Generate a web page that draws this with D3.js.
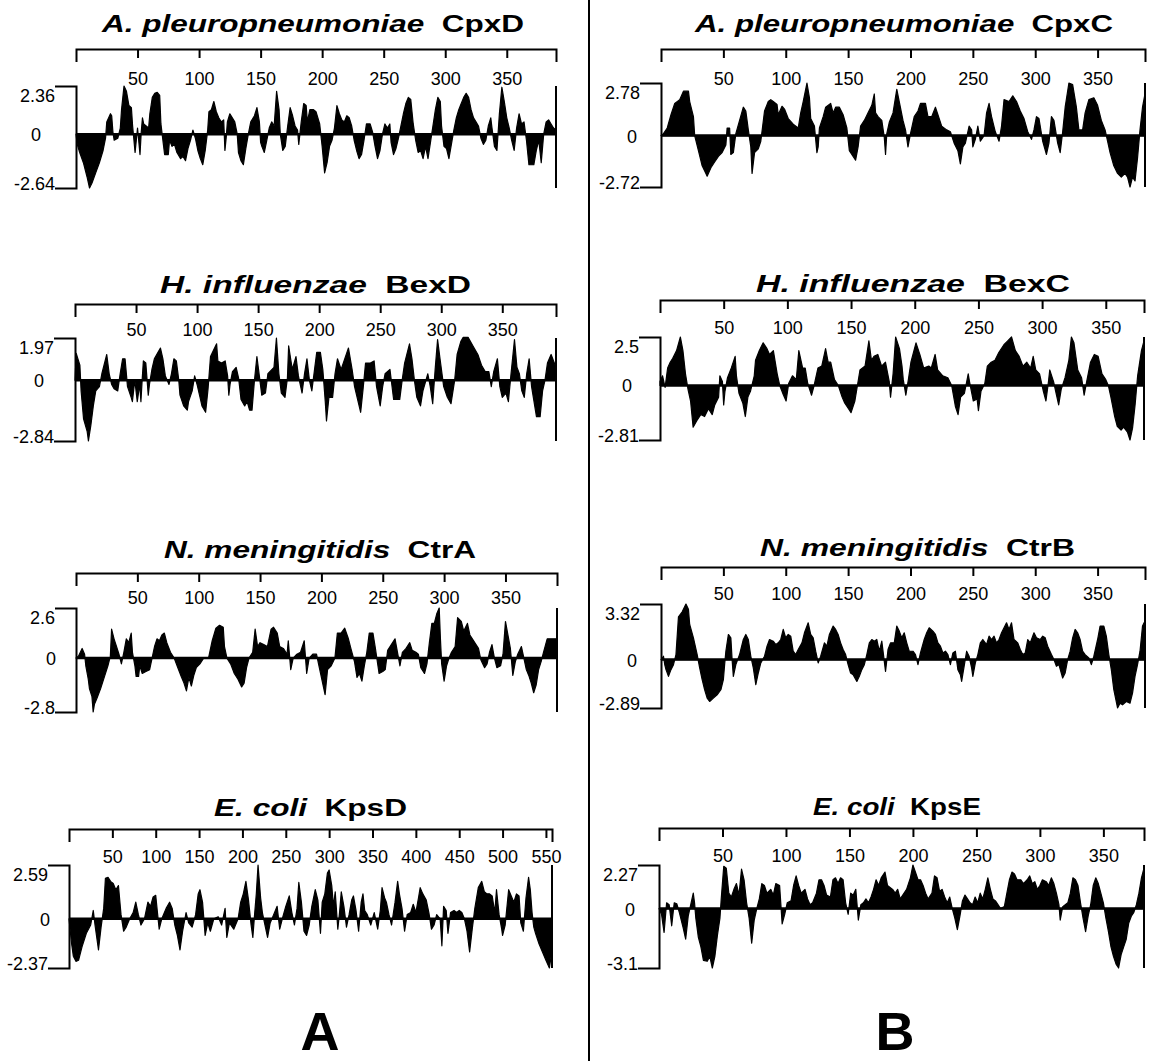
<!DOCTYPE html>
<html><head><meta charset="utf-8">
<script src="https://cdn.jsdelivr.net/npm/d3@7"></script>
<style>body{margin:0;background:#fff}svg{display:block}</style>
</head><body>
<svg id="chart" width="1149" height="1061"></svg>
<script>
// ---------- DATA (residue, hydropathy) ----------
const cpxD = [[0,0],[1,-0.5],[3,-0.9],[6,-1.4],[9,-2.1],[11,-2.64],[13,-2.4],[16,-1.9],[19,-1.4],[22,-0.8],[24,-0.2],[25,0.6],[28,1.0],[29,0.9],[30,0.1],[31,-0.3],[34,-0.2],[36,0.3],[37,1.2],[39,2.36],[41,2.1],[43,1.4],[45,1.3],[46,0.4],[48,-0.9],[49,-0.3],[50,0.3],[52,-1.0],[53,0.1],[54,0.8],[55,0.5],[57,0.4],[59,0.3],[60,1.0],[62,1.8],[64,2.0],[66,2.05],[68,1.9],[69,0.5],[71,-0.5],[72,-1.0],[75,-1.0],[76,-0.3],[78,-0.6],[80,-0.5],[82,-0.9],[85,-1.2],[87,-1.1],[89,-1.3],[91,-0.7],[93,-0.3],[95,0.2],[97,-0.2],[99,-0.8],[101,-1.2],[103,-1.5],[105,-0.8],[107,0.2],[108,1.1],[110,1.2],[112,1.6],[114,1.1],[116,0.8],[118,0.6],[120,0.7],[121,-0.8],[122,-0.2],[123,0.6],[125,1.0],[127,0.8],[129,0.6],[131,0.0],[132,-0.9],[134,-1.3],[136,-1.5],[138,-0.7],[140,0.0],[142,0.6],[145,0.9],[147,1.3],[149,0.6],[150,-0.4],[151,-0.6],[153,-0.9],[155,-0.3],[157,0.3],[159,0.6],[161,0.4],[163,2.1],[165,1.2],[166,0.0],[168,-0.8],[170,-0.6],[172,0.4],[174,1.3],[176,0.9],[178,0.4],[180,0.2],[181,-0.5],[183,0.6],[185,1.5],[187,1.4],[188,0.6],[190,1.2],[193,1.2],[195,1.1],[198,0.5],[200,-0.6],[202,-1.9],[204,-1.4],[206,-0.6],[208,-0.3],[210,0.3],[212,1.4],[214,1.0],[216,0.7],[218,0.6],[220,0.9],[222,0.8],[224,0.4],[226,-0.3],[228,-0.8],[230,-1.2],[232,-1.0],[234,-0.3],[236,0.5],[239,0.5],[241,0.1],[243,-0.6],[245,-1.2],[247,-0.8],[249,0.0],[251,0.5],[253,0.3],[255,0.5],[256,-0.4],[258,-1.0],[260,-0.7],[262,-0.2],[264,0.4],[266,1.0],[268,1.5],[270,1.8],[272,1.7],[274,0.5],[276,-0.3],[278,-0.9],[280,-0.8],[282,-1.2],[284,-0.6],[286,-1.2],[288,-0.4],[290,0.4],[292,1.2],[294,1.8],[296,1.6],[297,0.4],[299,-0.6],[301,-0.7],[303,-1.2],[305,-0.5],[307,0.2],[309,0.8],[311,1.2],[313,1.5],[315,1.8],[317,2.0],[319,1.8],[321,1.2],[323,0.8],[325,0.6],[327,0.4],[329,-0.2],[331,-0.5],[333,-0.3],[335,0.4],[337,0.8],[338,0.3],[340,-0.6],[342,-0.8],[344,1.0],[346,2.3],[348,1.6],[350,0.8],[352,0.3],[354,-0.3],[356,-0.8],[358,0.3],[360,1.0],[362,0.5],[364,0.6],[366,-0.3],[368,-1.5],[370,-1.5],[372,-1.5],[374,-0.8],[376,-0.3],[378,-1.4],[380,0.0],[382,0.6],[384,0.7],[386,0.5],[388,0.3],[390,0.2]];

const cpxC = [[0,0],[2,0.1],[5,0.4],[8,1.1],[11,1.7],[15,1.9],[18,2.35],[22,2.35],[23,1.8],[26,1.0],[27,0.0],[30,-0.8],[33,-1.6],[36,-2.0],[37,-2.15],[40,-1.7],[43,-1.4],[46,-1.1],[49,-0.9],[52,-0.5],[53,0.4],[55,0.4],[56,-1.0],[58,-0.9],[60,0.1],[63,0.8],[66,1.5],[68,1.3],[70,0.3],[72,-0.6],[73,-2.0],[75,-0.9],[78,-0.7],[80,-0.3],[83,1.3],[86,1.8],[88,1.9],[90,1.8],[93,1.65],[94,1.1],[97,1.55],[99,1.4],[102,0.9],[106,0.6],[110,0.4],[112,1.2],[114,1.8],[117,2.78],[119,2.0],[120,0.9],[123,0.5],[125,-0.9],[126,-0.6],[127,0.4],[130,1.0],[132,1.5],[136,1.7],[138,1.2],[140,1.5],[143,1.5],[146,1.1],[149,0.4],[151,-0.8],[154,-1.1],[156,-1.3],[158,-0.6],[160,0.5],[163,0.8],[166,1.2],[169,1.6],[171,2.2],[172,1.2],[174,1.0],[177,0.8],[179,-0.1],[180,-1.0],[181,0.1],[183,0.7],[186,1.2],[189,2.45],[191,1.8],[194,0.8],[196,0.3],[198,-0.6],[200,0.1],[203,1.0],[206,1.3],[208,1.7],[212,1.7],[214,1.0],[217,1.0],[220,1.5],[222,1.1],[225,0.5],[229,0.3],[232,0.2],[235,-0.4],[238,-0.8],[240,-1.5],[242,-0.6],[244,-0.4],[247,0.5],[249,0.3],[250,-0.6],[252,-0.2],[254,0.5],[256,-0.3],[259,0.0],[261,1.2],[263,1.7],[265,1.0],[268,0.2],[271,-0.3],[273,0.5],[275,1.9],[279,1.8],[282,2.1],[285,1.8],[288,1.3],[291,0.9],[294,0.2],[297,-0.2],[299,0.3],[301,1.0],[303,0.9],[306,-0.3],[309,-1.0],[311,-0.4],[313,1.0],[315,0.8],[318,-0.4],[320,-0.9],[322,0.2],[324,1.5],[327,2.78],[330,2.7],[333,1.5],[335,0.3],[338,0.3],[340,1.2],[343,1.9],[347,2.0],[350,1.6],[353,0.8],[356,0.3],[358,-0.3],[360,-0.9],[363,-1.6],[366,-2.0],[369,-2.2],[372,-2.0],[374,-2.2],[376,-2.72],[378,-2.2],[380,-2.4],[382,-1.2],[384,0.3],[386,1.5],[388,2.2]];

const bexD = [[0,0],[1,1.25],[4,0.7],[5,-0.5],[7,-1.8],[10,-2.4],[11,-2.84],[13,-2.1],[15,-1.2],[17,-0.5],[20,-0.3],[22,0.3],[26,1.2],[28,0.3],[30,-0.2],[32,-0.4],[35,-0.5],[37,0.3],[39,1.0],[41,1.0],[43,-0.3],[46,-0.8],[47,-1.0],[49,0.0],[51,-1.0],[53,-0.2],[54,-1.0],[55,0.0],[56,0.9],[58,0.8],[60,-0.7],[61,-0.2],[63,0.5],[65,1.0],[68,1.3],[70,1.5],[72,1.0],[74,0.2],[77,-0.2],[79,0.3],[81,1.0],[83,0.9],[85,0.0],[86,-0.7],[89,-1.2],[92,-1.4],[93,-1.0],[96,-0.5],[98,0.2],[100,-0.2],[102,-0.7],[104,-1.2],[107,-1.5],[109,-0.4],[111,1.1],[116,1.7],[117,0.9],[120,0.8],[123,0.9],[125,0.2],[126,-0.7],[127,-0.2],[129,0.4],[132,0.6],[134,0.1],[136,-0.9],[139,-1.2],[141,-1.0],[143,-1.4],[145,-1.4],[147,0.0],[149,1.1],[151,0.2],[153,-0.7],[156,-0.6],[158,0.3],[163,0.6],[165,1.97],[167,0.3],[169,-0.6],[172,-0.8],[174,0.1],[175,1.6],[178,0.5],[181,1.1],[183,0.2],[186,-0.6],[188,0.3],[190,1.0],[192,0.0],[194,-0.5],[196,0.4],[198,1.3],[201,1.3],[203,0.5],[205,-1.0],[206,-1.9],[208,-0.8],[211,-0.8],[213,0.3],[215,1.0],[218,0.5],[221,1.0],[224,1.5],[227,0.5],[229,-0.3],[234,-1.5],[236,-0.4],[238,0.8],[242,0.8],[245,0.9],[247,-0.3],[250,-1.2],[252,-0.3],[254,0.3],[258,0.5],[261,-0.9],[266,-0.9],[268,0.0],[270,0.8],[274,1.7],[276,1.0],[278,0.0],[280,-0.8],[283,-1.2],[285,-0.5],[289,0.3],[291,-0.3],[293,-1.1],[295,0.5],[297,1.9],[299,1.0],[302,-0.3],[305,-0.8],[308,-1.1],[311,0.0],[313,1.2],[316,1.8],[318,2.0],[322,2.0],[326,1.6],[330,1.2],[333,0.7],[336,0.4],[339,0.4],[341,-0.3],[343,0.4],[346,1.0],[348,-0.3],[350,-0.8],[353,-0.6],[355,-1.0],[357,0.2],[360,1.9],[362,0.6],[364,0.3],[366,-0.5],[368,-0.8],[370,0.3],[372,1.0],[374,-0.3],[376,-1.0],[378,-1.7],[381,-1.7],[383,-0.5],[385,0.0],[387,0.8],[390,1.2],[392,0.9],[394,0.6]];

const bexC = [[0,0.2],[2,0.5],[4,-0.1],[6,0.9],[8,1.2],[10,1.4],[13,1.8],[16,2.5],[18,1.8],[20,0.6],[22,-0.2],[24,-0.8],[26,-2.15],[29,-1.8],[32,-1.5],[35,-1.6],[38,-1.2],[41,-1.5],[43,-1.0],[46,-0.6],[47,0.5],[49,0.2],[50,-1.0],[51,-0.3],[53,0.4],[56,0.9],[59,1.5],[60,0.5],[62,-0.4],[65,-0.9],[67,-1.6],[69,-0.6],[71,-0.3],[74,0.5],[75,1.3],[78,1.8],[81,2.2],[84,1.9],[86,1.6],[89,1.8],[92,0.6],[94,0.0],[97,-0.5],[99,-0.8],[101,0.1],[104,0.5],[107,0.3],[109,1.8],[112,0.9],[114,0.9],[116,0.1],[119,-0.5],[121,0.0],[124,0.9],[127,1.0],[130,1.9],[132,1.2],[134,1.2],[137,0.3],[140,0.0],[143,-0.6],[145,-0.9],[148,-1.2],[150,-1.4],[153,-0.8],[155,0.0],[157,0.8],[161,1.0],[164,2.3],[166,1.3],[168,1.5],[171,1.6],[174,1.0],[177,1.2],[180,0.2],[181,-0.6],[183,0.6],[185,2.5],[188,1.9],[190,1.0],[191,0.3],[193,-0.5],[195,0.3],[197,1.2],[201,2.2],[204,1.6],[207,0.9],[211,1.0],[213,0.9],[216,1.6],[218,0.8],[222,0.5],[226,0.4],[229,0.0],[232,-1.1],[234,-1.5],[236,-0.6],[239,-0.4],[242,0.6],[243,0.2],[246,-0.8],[249,-0.7],[250,-1.3],[252,-0.3],[255,0.1],[257,1.0],[260,1.2],[263,1.3],[266,1.7],[270,2.1],[273,2.3],[276,2.5],[279,1.8],[282,1.5],[285,1.0],[288,1.2],[291,0.9],[293,1.5],[295,0.8],[298,0.6],[301,-0.3],[303,-0.8],[305,0.2],[306,0.8],[309,0.2],[311,-0.4],[313,-1.0],[315,-0.2],[318,0.4],[321,1.3],[323,2.5],[325,2.2],[328,0.8],[331,0.4],[333,-0.5],[335,0.2],[338,1.2],[341,1.6],[344,1.5],[347,0.6],[350,0.3],[352,0.0],[354,-0.6],[357,-1.6],[359,-2.1],[362,-2.3],[364,-2.15],[367,-2.4],[369,-2.81],[371,-2.2],[373,-1.0],[375,0.5],[378,1.8],[380,2.3]];

const ctrA = [[0,0],[2,0.1],[5,0.5],[7,0.2],[8,-0.4],[10,-1.1],[11,-1.6],[13,-2.0],[14,-2.8],[15,-2.4],[17,-2.1],[20,-1.6],[23,-1.0],[26,-0.4],[28,0.1],[29,1.5],[31,1.0],[33,0.6],[35,0.2],[37,-0.3],[39,0.3],[41,1.0],[43,0.8],[45,1.3],[46,0.3],[48,-0.4],[49,-0.95],[51,-0.95],[52,-0.4],[54,-0.8],[57,-0.7],[60,-0.6],[62,0.0],[64,0.6],[66,1.0],[68,0.9],[70,1.2],[72,1.3],[74,0.8],[77,0.3],[80,0.0],[83,-0.5],[86,-1.0],[88,-1.3],[90,-1.7],[92,-1.0],[94,-1.45],[96,-0.9],[98,-0.5],[101,-0.3],[104,0.0],[108,0.0],[111,0.9],[114,1.55],[117,1.7],[120,1.6],[121,0.6],[123,0.0],[126,-0.3],[129,-0.8],[132,-1.1],[135,-1.5],[137,-1.3],[139,-0.5],[141,0.0],[144,0.3],[146,1.5],[148,0.6],[150,0.8],[153,0.7],[156,0.6],[159,1.5],[161,1.6],[164,1.3],[166,0.6],[169,0.5],[172,0.2],[173,0.9],[175,-0.6],[177,0.0],[180,0.2],[183,0.3],[186,0.9],[188,-0.8],[190,0.0],[193,0.2],[196,0.2],[198,-0.4],[203,-1.9],[205,-0.6],[208,-0.4],[211,0.0],[213,1.3],[216,1.3],[219,1.55],[222,1.0],[224,0.5],[227,-0.2],[229,-1.0],[231,-0.8],[233,-1.2],[235,-0.4],[237,0.3],[239,1.3],[242,1.3],[244,0.5],[247,-0.8],[250,-0.7],[252,-0.6],[254,0.4],[257,0.7],[260,1.0],[262,0.3],[264,-0.4],[266,0.3],[269,0.5],[272,0.8],[274,0.4],[277,0.3],[279,0.2],[281,-0.5],[284,-0.8],[286,-0.3],[288,0.8],[290,1.8],[292,1.8],[294,2.3],[296,2.6],[297,1.0],[298,-0.3],[300,-1.2],[302,-0.4],[304,0.0],[306,0.3],[309,0.6],[311,2.1],[314,1.9],[316,1.4],[319,1.8],[321,1.2],[323,1.0],[326,0.7],[328,0.5],[330,-0.1],[333,-0.5],[335,-0.3],[337,0.3],[339,0.7],[341,0.0],[343,-0.5],[346,-0.4],[348,0.2],[350,1.9],[352,1.2],[354,0.5],[356,-0.9],[358,-0.2],[360,0.2],[363,0.6],[365,0.0],[367,-0.6],[369,-0.9],[371,-1.3],[373,-1.8],[375,-1.4],[377,-0.6],[379,-0.2],[381,0.3],[384,1.0],[388,1.0],[392,1.0]];

const ctrB = [[0,0],[2,0.2],[3,-0.3],[4,-0.6],[6,-1.0],[8,-0.6],[10,-0.3],[12,0.3],[14,2.55],[17,2.85],[20,3.32],[22,3.0],[23,2.1],[26,1.3],[29,0.3],[31,-0.5],[33,-1.2],[35,-1.8],[37,-2.3],[39,-2.5],[42,-2.3],[45,-2.1],[48,-1.8],[50,-1.2],[51,-0.3],[52,0.5],[54,1.5],[56,1.3],[57,0.0],[58,-1.0],[60,-0.3],[63,0.3],[66,1.2],[68,1.5],[70,1.2],[72,0.2],[74,-0.5],[76,-1.5],[78,-0.8],[80,-0.2],[83,0.2],[85,0.8],[87,1.2],[90,1.1],[92,0.9],[94,1.0],[96,1.2],[98,1.8],[100,1.3],[102,1.5],[104,1.4],[106,0.5],[108,0.3],[110,0.6],[113,1.0],[115,1.6],[118,2.2],[120,1.5],[122,1.3],[124,0.5],[126,-0.2],[128,0.2],[131,1.0],[133,0.8],[135,1.5],[138,2.0],[140,1.8],[142,1.5],[144,1.0],[146,0.6],[148,0.3],[150,-0.3],[152,-0.8],[154,-0.9],[157,-1.3],[159,-1.0],[161,-0.6],[163,-0.3],[165,0.3],[167,1.0],[169,1.2],[171,1.1],[173,1.2],[175,0.5],[177,1.1],[180,-0.7],[182,0.6],[184,1.0],[187,1.0],[189,2.0],[191,1.7],[193,1.3],[195,1.6],[197,1.0],[199,0.5],[202,0.5],[204,0.3],[206,-0.3],[208,0.4],[211,1.2],[213,1.6],[215,1.9],[218,1.7],[220,1.5],[222,1.0],[224,0.8],[226,0.4],[228,0.5],[230,0.3],[232,-0.3],[234,0.4],[236,0.5],[238,-0.6],[240,-0.9],[241,-1.3],[243,-0.4],[245,0.5],[247,0.2],[249,-0.5],[250,-1.0],[252,-0.2],[254,0.3],[256,1.0],[258,1.2],[261,0.9],[263,1.4],[265,1.2],[267,1.4],[269,1.0],[271,1.2],[273,1.6],[277,2.2],[279,1.8],[281,2.2],[283,1.2],[286,1.0],[288,0.6],[290,0.3],[292,0.4],[294,1.2],[296,1.0],[299,1.6],[301,1.3],[304,1.2],[306,1.4],[308,1.3],[310,0.8],[313,0.3],[315,0.0],[317,-0.4],[319,-0.3],[322,-1.1],[324,-0.8],[326,0.0],[328,0.5],[330,1.3],[332,1.8],[334,1.6],[336,1.2],[338,0.5],[340,0.3],[343,0.1],[345,-0.3],[347,0.2],[350,1.2],[352,2.0],[355,2.0],[357,1.4],[359,0.3],[361,-0.6],[363,-1.8],[366,-2.89],[368,-2.6],[370,-2.7],[373,-2.5],[376,-2.6],[378,-2.0],[380,-1.0],[382,-0.3],[384,0.5],[386,2.0],[388,2.3]];

const kpsD = [[0,0],[3,-1.2],[5,-1.8],[8,-2.05],[11,-2.0],[15,-1.35],[20,-0.7],[25,-0.3],[28,0.4],[30,-0.3],[34,-1.5],[37,-0.4],[40,0.5],[42,1.95],[45,2.0],[48,1.8],[51,1.7],[54,1.4],[57,1.6],[60,0.2],[63,-0.6],[66,-0.4],[70,0.0],[74,0.3],[77,0.8],[80,0.2],[83,-0.3],[87,0.0],[91,0.8],[94,0.6],[97,1.05],[100,1.13],[102,0.3],[104,-0.5],[107,0.0],[112,0.5],[116,0.8],[119,0.5],[122,-0.3],[125,-0.8],[128,-1.5],[131,-0.6],[135,0.3],[138,-0.2],[142,-0.4],[146,0.2],[149,1.2],[151,1.4],[154,0.8],[157,-0.8],[160,-0.2],[163,-0.6],[167,0.0],[172,0.1],[176,-0.3],[180,0.5],[182,-0.9],[185,-0.2],[190,-0.5],[195,0.0],[198,0.8],[201,1.2],[204,1.8],[207,0.9],[210,-0.3],[212,-0.9],[214,0.2],[216,1.2],[218,2.59],[221,1.0],[223,0.3],[226,-0.3],[229,-0.9],[232,-0.2],[236,0.2],[240,0.6],[243,-0.5],[246,0.0],[250,0.6],[254,1.1],[257,0.3],[260,-0.3],[263,0.5],[265,1.75],[268,0.8],[271,-0.6],[274,-0.8],[277,-0.3],[280,0.6],[284,1.4],[287,0.9],[290,-0.7],[292,0.8],[295,1.2],[298,2.2],[300,2.35],[303,1.6],[305,0.6],[307,1.3],[310,-0.5],[312,0.3],[314,1.3],[317,0.6],[320,-0.4],[323,0.2],[326,0.9],[328,1.1],[331,0.4],[334,-0.6],[337,0.8],[339,1.2],[341,0.4],[344,0.2],[348,-0.3],[352,0.3],[356,-0.5],[359,0.4],[361,1.5],[364,1.0],[366,0.8],[369,0.2],[372,-0.3],[376,0.8],[379,1.8],[381,1.2],[384,0.5],[387,-0.6],[390,0.2],[394,0.3],[397,0.7],[400,0.3],[403,1.0],[405,1.5],[408,1.2],[412,0.9],[415,0.3],[418,-0.5],[421,-0.3],[424,0.2],[428,0.0],[430,-1.3],[432,0.6],[435,0.4],[437,-0.7],[440,0.3],[444,0.4],[447,0.3],[450,0.4],[453,0.3],[456,0.0],[459,-0.6],[462,-1.6],[465,-0.5],[468,0.5],[472,1.5],[476,1.8],[479,1.3],[482,1.2],[485,1.2],[488,1.1],[491,0.3],[493,1.4],[496,0.2],[499,-0.5],[500,-0.8],[503,-0.3],[507,1.4],[510,1.1],[513,0.8],[516,1.2],[519,1.1],[521,-0.2],[524,-0.6],[527,1.0],[530,2.0],[532,1.4],[534,0.3],[536,-0.4],[538,-0.7],[542,-1.2],[546,-1.6],[550,-2.0],[554,-2.37],[556,-1.8],[557,-1.0]];

const kpsE = [[0,0],[2,-0.3],[4,-1.25],[6,0.3],[8,0.2],[10,-0.9],[12,0.3],[14,0.25],[16,-0.2],[19,-1.0],[21,-1.6],[23,-0.4],[25,0.2],[27,0.8],[28,0.3],[29,-0.5],[31,-1.5],[33,-2.0],[35,-2.7],[38,-2.75],[40,-2.5],[42,-3.1],[44,-2.5],[46,-1.4],[48,-0.5],[49,0.5],[51,2.2],[53,2.1],[55,0.8],[57,0.6],[59,1.0],[61,1.3],[63,0.7],[65,2.05],[67,1.5],[69,0.3],[71,-0.5],[73,-1.8],[75,-0.6],[77,0.0],[79,0.5],[81,1.3],[83,1.2],[85,0.8],[88,1.0],[90,0.7],[92,1.3],[95,1.2],[97,-0.8],[99,-0.3],[101,0.3],[104,0.4],[106,1.2],[108,1.7],[110,1.2],[112,0.8],[115,1.0],[117,0.5],[119,0.2],[121,0.3],[124,0.8],[126,1.5],[128,1.5],[130,1.2],[132,0.7],[135,0.6],[137,1.5],[139,1.6],[141,1.3],[143,1.6],[145,1.5],[147,0.3],[149,-0.3],[151,0.8],[153,0.7],[155,1.0],[157,-0.6],[159,0.2],[161,0.3],[163,0.5],[165,0.3],[167,0.6],[169,1.0],[171,1.5],[173,1.2],[175,1.6],[178,1.9],[180,1.2],[182,1.1],[184,1.0],[186,0.8],[188,1.0],[190,0.5],[192,0.7],[195,1.0],[198,1.6],[200,2.27],[202,1.9],[204,1.5],[206,1.5],[208,1.2],[210,0.8],[212,0.5],[215,0.8],[217,1.7],[219,1.6],[221,0.9],[223,1.0],[225,0.6],[227,0.3],[229,0.6],[231,0.0],[233,-0.5],[235,-1.1],[237,-0.4],[239,0.4],[241,0.7],[243,0.5],[245,0.3],[247,0.2],[249,0.6],[251,0.3],[253,0.8],[255,0.5],[257,1.0],[259,1.6],[261,1.0],[263,0.5],[265,0.4],[267,0.2],[269,0.0],[272,0.1],[274,0.8],[276,1.5],[278,1.9],[280,1.8],[282,1.5],[285,1.5],[287,1.3],[290,1.5],[292,1.7],[294,1.3],[296,1.4],[298,1.0],[300,1.2],[302,1.5],[305,1.4],[307,1.2],[309,1.6],[311,1.3],[313,0.8],[315,0.2],[316,-0.6],[318,0.1],[320,0.2],[322,0.3],[324,0.8],[326,1.6],[328,1.5],[330,1.2],[332,0.3],[334,-0.5],[336,-1.2],[338,-0.4],[340,0.2],[342,1.2],[344,1.6],[346,1.3],[348,0.8],[350,0.3],[352,-0.5],[354,-1.2],[356,-2.0],[358,-2.5],[360,-2.9],[362,-3.1],[364,-2.4],[366,-2.0],[368,-1.6],[370,-0.75],[372,-0.4],[374,-0.2],[376,0.2],[378,0.8],[380,1.6],[382,2.1]];

// panel descriptors (text + ranges)
const species  = ["A. pleuropneumoniae","A. pleuropneumoniae","H. influenzae","H. influenzae","N. meningitidis","N. meningitidis","E. coli","E. coli"];
const proteins = ["CpxD","CpxC","BexD","BexC","CtrA","CtrB","KpsD","KpsE"];
const lengths  = [390,388,394,380,392,388,557,382];
const yMaxVals = [2.36,2.78,1.97,2.5,2.6,3.32,2.59,2.27];
const yMinVals = [-2.64,-2.72,-2.84,-2.81,-2.8,-2.89,-2.37,-3.1];
const seriesList = [cpxD,cpxC,bexD,bexC,ctrA,ctrB,kpsD,kpsE];
const xTicksShort = [50,100,150,200,250,300,350];
const xTicksLong  = [50,100,150,200,250,300,350,400,450,500,550];
const panelLabels = ["A","B"];

// ---------- LAYOUT (pixel geometry) ----------
const layout = [
  {x0:76, x1:556, axisY:49,  tickY:85,  top:86,  bottom:188, tx0:102, tx1:524, ty:32,  zx:36},
  {x0:661,x1:1145,axisY:49,  tickY:85,  top:83,  bottom:187, tx0:695, tx1:1113,ty:32,  zx:632},
  {x0:75, x1:556, axisY:304, tickY:336, top:338, bottom:441, tx0:160, tx1:471, ty:293, zx:39},
  {x0:660,x1:1144,axisY:300, tickY:334, top:337, bottom:440, tx0:756, tx1:1070,ty:292, zx:627},
  {x0:76, x1:557, axisY:573, tickY:604, top:608, bottom:712, tx0:164, tx1:476, ty:558, zx:51},
  {x0:661,x1:1145,axisY:567, tickY:600, top:604, bottom:708, tx0:760, tx1:1075,ty:556, zx:632},
  {x0:69, x1:552, axisY:829, tickY:863, top:865, bottom:968, tx0:214, tx1:407, ty:816, zx:45},
  {x0:659,x1:1144,axisY:828, tickY:862, top:865, bottom:968, tx0:813, tx1:981, ty:815, zx:630}
];

const FONT = "'Liberation Sans', Arial, Helvetica, sans-serif";
const svg = d3.select("#chart");
svg.append("rect").attr("width",1149).attr("height",1061).attr("fill","#fff");

// divider
svg.append("line").attr("x1",589).attr("x2",589).attr("y1",0).attr("y2",1061)
   .attr("stroke","#000").attr("stroke-width",2);

seriesList.forEach((data, i) => {
  const L = layout[i];
  const g = svg.append("g");
  const x = d3.scaleLinear().domain([0, lengths[i]]).range([L.x0, L.x1]);
  const y = d3.scaleLinear().domain([yMinVals[i], yMaxVals[i]]).range([L.bottom, L.top]);

  // filled profile
  const area = d3.area().x(d => x(d[0])).y0(y(0)).y1(d => y(d[1]));
  g.append("path").datum(data).attr("d", area).attr("fill","#000")
   .attr("stroke","#000").attr("stroke-width",1.2).attr("stroke-linejoin","round");
  // zero baseline
  g.append("line").attr("x1",x(0)).attr("x2",x(lengths[i])).attr("y1",y(0)).attr("y2",y(0))
   .attr("stroke","#000").attr("stroke-width",2.5);

  // top residue axis
  const ticks = lengths[i] > 500 ? xTicksLong : xTicksShort;
  const axis = d3.axisBottom(x).tickValues(ticks).tickSize(9).tickSizeOuter(13).tickPadding(14)
                 .tickFormat(d3.format("d"));
  const ag = g.append("g").attr("transform", `translate(0,${L.axisY})`).call(axis);
  ag.select(".domain").attr("stroke","#000").attr("stroke-width",2);
  ag.selectAll(".tick line").attr("stroke","#000").attr("stroke-width",2);
  ag.selectAll(".tick text").attr("font-family",FONT).attr("font-size",18).attr("fill","#000")
    .attr("dy",null).attr("y", L.tickY - L.axisY);

  // left bracket
  const yAxis = d3.axisLeft(y).tickValues([]).tickSizeOuter(21);
  const yg = g.append("g").attr("transform",`translate(${L.x0},0)`).call(yAxis);
  yg.select(".domain").attr("stroke","#000").attr("stroke-width",2);
  // right edge line
  g.append("line").attr("x1",x(lengths[i])).attr("x2",x(lengths[i]))
   .attr("y1",y(yMaxVals[i])).attr("y2",y(yMinVals[i])).attr("stroke","#000").attr("stroke-width",2);

  // y labels
  const lab = (txt, xx, yy, anchor) => g.append("text").attr("x",xx).attr("y",yy)
     .attr("text-anchor",anchor).attr("font-family",FONT).attr("font-size",18).attr("fill","#000").text(txt);
  lab(String(yMaxVals[i]), L.x0 - 21, y(yMaxVals[i]) + 16, "end");
  lab("0", L.zx, y(0) + 7, "middle");
  lab(String(yMinVals[i]), L.x0 - 21, y(yMinVals[i]) + 2, "end");

  // title
  const fs = 24;
  const t1 = g.append("text").attr("x",L.tx0).attr("y",L.ty).attr("font-family",FONT)
     .attr("font-size",fs).attr("font-weight","bold").attr("font-style","italic").attr("fill","#000").text(species[i]);
  const t2 = g.append("text").attr("y",L.ty).attr("font-family",FONT)
     .attr("font-size",fs).attr("font-weight","bold").attr("fill","#000").text(proteins[i]);
  const w1 = t1.node().getComputedTextLength(), w2 = t2.node().getComputedTextLength();
  const gap = fs * 0.55;
  const k = (L.tx1 - L.tx0) / (w1 + gap + w2);
  t1.attr("textLength", w1 * k).attr("lengthAdjust","spacingAndGlyphs");
  t2.attr("x", L.tx0 + (w1 + gap) * k).attr("textLength", w2 * k).attr("lengthAdjust","spacingAndGlyphs");
});

// panel letters
[[320, panelLabels[0]],[895, panelLabels[1]]].forEach(([cx, t]) => {
  svg.append("text").attr("x",cx).attr("y",1050).attr("text-anchor","middle")
     .attr("font-family",FONT).attr("font-weight","bold").attr("font-size",54).attr("fill","#000").text(t);
});
</script>
</body></html>
